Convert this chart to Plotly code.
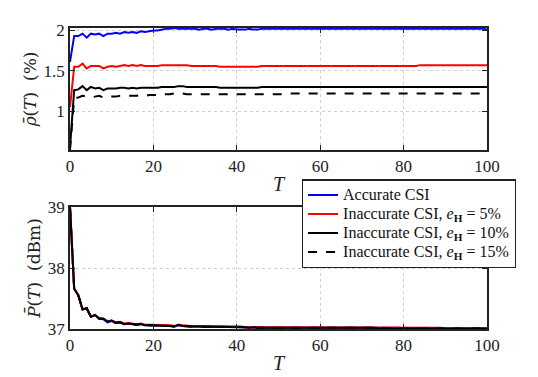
import plotly.graph_objects as go
from plotly.subplots import make_subplots

T = list(range(101))

# average rate  rho(T) in %
rho_accurate = [
    1.61, 1.93, 1.93, 1.96, 1.91, 1.96, 1.95, 1.96, 1.93, 1.96,
    1.96, 1.97, 1.96, 1.98, 1.97, 1.98, 1.97, 1.99, 1.98, 1.99,
    2.00, 2.00, 2.01, 2.02, 2.02, 2.03, 2.02, 2.02, 2.02, 2.02,
    2.02, 2.01, 2.02, 2.02, 2.01, 2.02, 2.02, 2.02, 2.01, 2.02,
    2.01, 2.01, 2.01, 2.02, 2.01, 2.01, 2.02, 2.02, 2.02, 2.02,
    2.02, 2.02, 2.02, 2.02, 2.02, 2.02, 2.02, 2.02, 2.02, 2.02,
    2.02, 2.02, 2.02, 2.02, 2.02, 2.02, 2.02, 2.02, 2.02, 2.02,
    2.02, 2.02, 2.02, 2.02, 2.02, 2.02, 2.02, 2.02, 2.02, 2.02,
    2.02, 2.02, 2.02, 2.02, 2.02, 2.02, 2.02, 2.02, 2.02, 2.02,
    2.02, 2.02, 2.02, 2.02, 2.02, 2.02, 2.02, 2.02, 2.02, 2.02,
    2.01,
]
rho_e5 = [
    1.05, 1.55, 1.55, 1.59, 1.53, 1.56, 1.56, 1.56, 1.53, 1.55,
    1.56, 1.55, 1.56, 1.57, 1.56, 1.57, 1.56, 1.57, 1.56, 1.56,
    1.56, 1.56, 1.57, 1.57, 1.57, 1.57, 1.57, 1.57, 1.57, 1.56,
    1.56, 1.56, 1.56, 1.56, 1.56, 1.56, 1.55, 1.55, 1.55, 1.55,
    1.55, 1.55, 1.55, 1.55, 1.55, 1.55, 1.56, 1.56, 1.56, 1.56,
    1.56, 1.56, 1.56, 1.56, 1.56, 1.56, 1.56, 1.56, 1.56, 1.56,
    1.56, 1.56, 1.56, 1.56, 1.56, 1.56, 1.56, 1.56, 1.56, 1.56,
    1.56, 1.56, 1.56, 1.56, 1.56, 1.56, 1.56, 1.56, 1.56, 1.56,
    1.56, 1.56, 1.56, 1.56, 1.57, 1.57, 1.57, 1.57, 1.57, 1.57,
    1.57, 1.57, 1.57, 1.57, 1.57, 1.57, 1.57, 1.57, 1.57, 1.57,
    1.57,
]
rho_e10 = [
    0.55, 1.26, 1.27, 1.31, 1.26, 1.30, 1.28, 1.29, 1.26, 1.28,
    1.28, 1.28, 1.29, 1.29, 1.28, 1.29, 1.28, 1.29, 1.29, 1.29,
    1.29, 1.29, 1.30, 1.30, 1.30, 1.30, 1.31, 1.31, 1.30, 1.30,
    1.30, 1.30, 1.30, 1.30, 1.30, 1.30, 1.29, 1.29, 1.29, 1.29,
    1.29, 1.29, 1.29, 1.29, 1.29, 1.29, 1.30, 1.30, 1.30, 1.30,
    1.30, 1.30, 1.30, 1.30, 1.30, 1.30, 1.30, 1.30, 1.30, 1.30,
    1.30, 1.30, 1.30, 1.30, 1.30, 1.30, 1.30, 1.30, 1.30, 1.30,
    1.30, 1.30, 1.30, 1.30, 1.30, 1.30, 1.30, 1.30, 1.30, 1.30,
    1.30, 1.30, 1.30, 1.30, 1.30, 1.30, 1.30, 1.30, 1.30, 1.30,
    1.30, 1.30, 1.30, 1.30, 1.30, 1.30, 1.30, 1.30, 1.30, 1.30,
    1.30,
]
rho_e15 = [
    0.52, 1.16, 1.17, 1.19, 1.18, 1.17, 1.18, 1.19, 1.17, 1.18,
    1.18, 1.18, 1.19, 1.19, 1.19, 1.19, 1.19, 1.20, 1.19, 1.20,
    1.20, 1.20, 1.21, 1.21, 1.21, 1.22, 1.22, 1.22, 1.21, 1.21,
    1.21, 1.21, 1.21, 1.21, 1.21, 1.21, 1.21, 1.21, 1.21, 1.21,
    1.21, 1.21, 1.21, 1.21, 1.21, 1.21, 1.21, 1.21, 1.21, 1.21,
    1.21, 1.21, 1.22, 1.22, 1.22, 1.22, 1.22, 1.22, 1.22, 1.22,
    1.22, 1.22, 1.22, 1.22, 1.22, 1.22, 1.22, 1.22, 1.22, 1.22,
    1.22, 1.22, 1.22, 1.22, 1.22, 1.22, 1.22, 1.22, 1.22, 1.22,
    1.22, 1.22, 1.22, 1.22, 1.22, 1.22, 1.22, 1.22, 1.22, 1.22,
    1.22, 1.22, 1.22, 1.22, 1.22, 1.22, 1.22, 1.22, 1.22, 1.22,
    1.22,
]

# average transmit power P(T) in dBm
p_accurate = [
    39.00, 37.66, 37.55, 37.32, 37.34, 37.20, 37.23, 37.17, 37.16, 37.11,
    37.13, 37.10, 37.11, 37.08, 37.09, 37.08, 37.07, 37.08, 37.06, 37.06,
    37.06, 37.06, 37.05, 37.06, 37.05, 37.04, 37.06, 37.05, 37.04, 37.04,
    37.04, 37.04, 37.03, 37.04, 37.03, 37.04, 37.03, 37.03, 37.03, 37.03,
    37.03, 37.03, 37.03, 37.02, 37.03, 37.02, 37.02, 37.02, 37.03, 37.02,
    37.02, 37.02, 37.02, 37.02, 37.02, 37.02, 37.02, 37.02, 37.02, 37.02,
    37.02, 37.02, 37.02, 37.02, 37.02, 37.02, 37.02, 37.02, 37.02, 37.02,
    37.02, 37.02, 37.02, 37.02, 37.02, 37.02, 37.02, 37.02, 37.02, 37.02,
    37.01, 37.01, 37.01, 37.01, 37.01, 37.01, 37.01, 37.01, 37.01, 37.01,
    37.01, 37.01, 37.01, 37.01, 37.01, 37.01, 37.01, 37.01, 37.01, 37.01,
    37.01,
]
p_e5 = [
    39.00, 37.67, 37.56, 37.33, 37.34, 37.21, 37.23, 37.18, 37.17, 37.13,
    37.14, 37.11, 37.12, 37.09, 37.10, 37.09, 37.08, 37.09, 37.07, 37.07,
    37.07, 37.07, 37.06, 37.07, 37.06, 37.05, 37.07, 37.06, 37.05, 37.05,
    37.05, 37.05, 37.04, 37.05, 37.04, 37.04, 37.04, 37.04, 37.04, 37.04,
    37.04, 37.04, 37.03, 37.03, 37.03, 37.03, 37.03, 37.03, 37.03, 37.03,
    37.03, 37.03, 37.03, 37.03, 37.03, 37.03, 37.03, 37.03, 37.03, 37.03,
    37.02, 37.02, 37.02, 37.02, 37.02, 37.02, 37.02, 37.02, 37.02, 37.02,
    37.02, 37.02, 37.02, 37.02, 37.02, 37.02, 37.02, 37.02, 37.02, 37.02,
    37.02, 37.02, 37.02, 37.02, 37.02, 37.02, 37.02, 37.02, 37.02, 37.02,
    37.01, 37.01, 37.01, 37.01, 37.01, 37.01, 37.01, 37.01, 37.01, 37.01,
    37.01,
]
p_e10 = [
    39.00, 37.66, 37.55, 37.32, 37.34, 37.20, 37.23, 37.17, 37.17, 37.12,
    37.14, 37.10, 37.11, 37.08, 37.09, 37.08, 37.07, 37.08, 37.06, 37.06,
    37.06, 37.06, 37.05, 37.06, 37.05, 37.04, 37.07, 37.05, 37.04, 37.04,
    37.04, 37.04, 37.03, 37.04, 37.03, 37.04, 37.03, 37.03, 37.03, 37.03,
    37.03, 37.03, 37.03, 37.02, 37.03, 37.02, 37.02, 37.02, 37.03, 37.02,
    37.02, 37.02, 37.02, 37.02, 37.02, 37.02, 37.02, 37.02, 37.02, 37.02,
    37.02, 37.02, 37.02, 37.02, 37.02, 37.02, 37.02, 37.02, 37.02, 37.02,
    37.02, 37.02, 37.02, 37.02, 37.01, 37.01, 37.01, 37.01, 37.01, 37.01,
    37.01, 37.01, 37.01, 37.01, 37.01, 37.01, 37.01, 37.01, 37.01, 37.01,
    37.01, 37.01, 37.01, 37.01, 37.01, 37.01, 37.01, 37.01, 37.01, 37.01,
    37.01,
]
p_e15 = [
    39.00, 37.66, 37.55, 37.32, 37.34, 37.20, 37.23, 37.17, 37.17, 37.12,
    37.14, 37.10, 37.11, 37.08, 37.09, 37.08, 37.07, 37.08, 37.06, 37.06,
    37.06, 37.06, 37.05, 37.06, 37.05, 37.04, 37.07, 37.05, 37.04, 37.04,
    37.04, 37.04, 37.03, 37.04, 37.03, 37.04, 37.03, 37.03, 37.03, 37.03,
    37.03, 37.03, 37.03, 37.02, 37.03, 37.02, 37.02, 37.02, 37.03, 37.02,
    37.02, 37.02, 37.02, 37.02, 37.02, 37.02, 37.02, 37.02, 37.02, 37.02,
    37.02, 37.02, 37.02, 37.02, 37.02, 37.02, 37.02, 37.02, 37.02, 37.02,
    37.02, 37.02, 37.02, 37.02, 37.01, 37.01, 37.01, 37.01, 37.01, 37.01,
    37.01, 37.01, 37.01, 37.01, 37.01, 37.01, 37.01, 37.01, 37.01, 37.01,
    37.01, 37.01, 37.01, 37.01, 37.01, 37.01, 37.01, 37.01, 37.01, 37.01,
    37.01,
]

names = [
    "Accurate CSI",
    "Inaccurate CSI, <i>e</i><sub><b>H</b></sub> = 5%",
    "Inaccurate CSI, <i>e</i><sub><b>H</b></sub> = 10%",
    "Inaccurate CSI, <i>e</i><sub><b>H</b></sub> = 15%",
]
colors = ["#0000ff", "#ff0000", "#000000", "#000000"]
dashes = ["solid", "solid", "solid", "dash"]

fig = make_subplots(rows=2, cols=1)

for i, (r, p) in enumerate(zip([rho_accurate, rho_e5, rho_e10, rho_e15],
                               [p_accurate, p_e5, p_e10, p_e15])):
    line = dict(color=colors[i], width=2, dash=dashes[i])
    # legend row height follows legend.font.size, so the bigger text goes in a span
    label = '<span style="font-size:16px">' + names[i] + "</span>"
    fig.add_trace(go.Scatter(x=T, y=r, mode="lines", name=label, line=line), row=1, col=1)
    fig.add_trace(go.Scatter(x=T, y=p, mode="lines", name=label, line=line,
                             showlegend=False), row=2, col=1)

font = dict(family="Liberation Serif", size=17, color="#222")
axis_style = dict(
    showline=True, linecolor="#222", linewidth=1.5, mirror="ticks",
    ticks="inside", ticklen=5, tickcolor="#222", tickwidth=1.2,
    showgrid=True, gridcolor="#d0d0d0", griddash="dot", gridwidth=1,
    zeroline=False, tickfont=font, automargin=False,
)

fig.update_xaxes(axis_style, range=[0, 100], tickvals=[0, 20, 40, 60, 80, 100])
fig.update_yaxes(axis_style)

title_font = dict(family="DejaVu Serif", size=17, color="#222")

# the page body adds 8px around the figure, so the canvas is shrunk by that much
fig.update_layout(
    width=530, height=369,
    margin=dict(l=62, r=51, t=20, b=48),
    paper_bgcolor="white", plot_bgcolor="white",
    font=font,
    xaxis=dict(title=dict(text="<i>T</i>", font=dict(size=20), standoff=2)),
    xaxis2=dict(title=dict(text="<i>T</i>", font=dict(size=20), standoff=2)),
    yaxis=dict(domain=[0.595, 1.0], range=[0.52, 2.03], tickvals=[1, 1.5, 2],
               title=dict(text="<i>ρ\u0304</i>(<i>T</i>)&nbsp;&nbsp;(%)", font=title_font, standoff=3)),
    yaxis2=dict(domain=[0.0, 0.405], range=[37, 39], tickvals=[37, 38, 39],
                title=dict(text="<i>P\u0304</i>(<i>T</i>)&nbsp;&nbsp;(dBm)", font=title_font, standoff=3)),
    legend=dict(x=0.556, y=0.497, xanchor="left", yanchor="top",
                bgcolor="white", bordercolor="#222", borderwidth=1.2,
                font=dict(family="Liberation Serif", size=12, color="#111"),
                tracegroupgap=0, itemwidth=30),
)

fig.write_html("out.html")
